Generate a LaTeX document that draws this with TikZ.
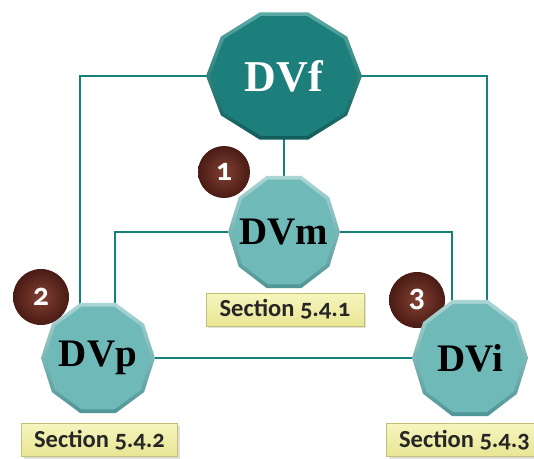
\documentclass[tikz,border=0pt]{standalone}
\usepackage{fontspec}
\setmainfont{Liberation Serif}
\newfontfamily\secfont[Numbers=OldStyle]{Carlito}
\usetikzlibrary{calc,shadows}
\definecolor{conncol}{RGB}{22,128,122}
\definecolor{darkmain}{RGB}{28,127,123}
\definecolor{darktop}{RGB}{90,170,165}
\definecolor{darkbot}{RGB}{16,92,90}
\definecolor{lightmain}{RGB}{112,185,185}
\definecolor{lighttop}{RGB}{170,214,212}
\definecolor{lightbot}{RGB}{80,150,150}
\definecolor{ballin}{RGB}{130,64,50}
\definecolor{ballout}{RGB}{74,27,21}
\definecolor{boxtop}{RGB}{246,245,190}
\definecolor{boxbot}{RGB}{232,230,148}
\definecolor{boxedge}{RGB}{196,192,118}
\newcommand\decag[4]{%
  \path[#4] ($(#1)+({(#2)},0)$)
    \foreach \a in {36,72,...,324}{ -- ($(#1)+({(#2)*cos(\a)},{(#3)*sin(\a)})$)} -- cycle;}
\newcommand\dvnode[6]{% name, rx, ry, top, main, bot
  \decag{#1}{#2}{#3}{top color=#4,bottom color=#6}
  \decag{#1}{#2-4}{#3-4}{fill=#5}}
\tikzset{
  conn/.style={draw=conncol,line width=2.4pt},
  dvtext/.style={font=\fontsize{39}{39}\selectfont\bfseries,text=black,inner sep=0pt},
  numtext/.style={font=\secfont\fontsize{32}{32}\selectfont\bfseries,text=white,inner sep=0pt},
  secbox/.style={draw=boxedge,line width=1pt,top color=boxtop,bottom color=boxbot,
    minimum width=156pt,minimum height=33pt,inner sep=0pt,
    font=\secfont\fontsize{24.5}{24.5}\selectfont\bfseries,text=black!85,
    drop shadow={shadow xshift=2pt,shadow yshift=-2pt,opacity=0.25}},
}
\begin{document}
\begin{tikzpicture}[x=1pt,y=-1pt]
\useasboundingbox (0,0) rectangle (534,458);
\fill[white] (0,0) rectangle (534,458);
% centres
\coordinate (f) at (284,76);
\coordinate (m) at (284,232);
\coordinate (p) at (98,358);
\coordinate (i) at (470,358);
% connectors
\draw[conn] (f) -- (m);
\draw[conn] (f) -| ($(p)+(-18,0)$);
\draw[conn] (f) -| ($(i)+(17,0)$);
\draw[conn] (m) -| ($(p)+(17,0)$);
\draw[conn] (m) -| ($(i)+(-18,0)$);
\draw[conn] (p) -- (i);
% numbered balls
\shade[inner color=ballin,outer color=ballout] (224,172) circle (26);
\node[numtext] (n1) at (224,172) {1};
\shade[inner color=ballin,outer color=ballout] (41,297) circle (28);
\node[numtext] (n2) at (41,297) {2};
\shade[inner color=ballin,outer color=ballout] (417,300) circle (28);
\node[numtext] (n3) at (417,300) {3};
% decagons
\dvnode{f}{78}{67}{darktop}{darkmain}{darkbot}
\dvnode{m}{56}{59}{lighttop}{lightmain}{lightbot}
\dvnode{p}{57}{58}{lighttop}{lightmain}{lightbot}
\dvnode{i}{58}{61}{lighttop}{lightmain}{lightbot}
\node[dvtext,text=white,font=\fontsize{44}{44}\selectfont\bfseries] (ft) at (f) {DVf};
\node[dvtext] (mt) at (m) {DVm};
\node[dvtext] (pt) at (p) {DVp};
\node[dvtext] (it) at (i) {DVi};
% section boxes
\node[secbox,minimum width=158pt] (s1) at (285,309.5) {Section 5.4.1};
\node[secbox] (s2) at (99.5,440) {Section 5.4.2};
\node[secbox] (s3) at (464.5,440) {Section 5.4.3};
\end{tikzpicture}
\end{document}
